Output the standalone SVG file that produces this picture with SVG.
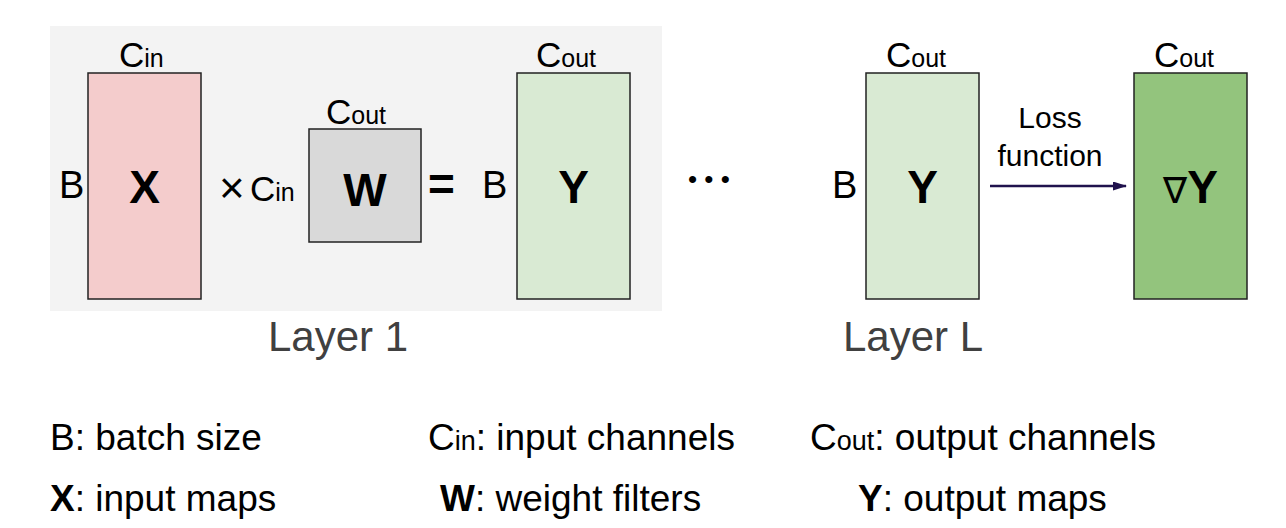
<svg xmlns="http://www.w3.org/2000/svg" width="1286" height="528" viewBox="0 0 1286 528">
<style>
text{font-family:"Liberation Sans",Arial,sans-serif;fill:#000}
.big{font-size:35px}
.sub{font-size:25px}
.b{font-size:38px}
.bold{font-size:46px;font-weight:bold}
.lay{font-size:42px;fill:#404040}
.leg{font-size:37px}
.lsub{font-size:27px}
.box{stroke:#222;stroke-width:1.5}
</style>
<defs><marker id="ah" markerWidth="14" markerHeight="9" refX="13" refY="4.5" orient="auto" markerUnits="userSpaceOnUse"><path d="M0,0 L14,4.5 L0,9 Z" fill="#20124d"/></marker></defs>
<rect x="50" y="26" width="612" height="285" fill="#f3f3f3"/>
<g id="X"><rect class="box" x="88" y="73" width="113" height="226" fill="#f4cccc"/><text class="bold" x="144.5" y="203" text-anchor="middle">X</text>
<text class="big" x="119" y="67">C<tspan class="sub">in</tspan></text><text class="b" x="59" y="198">B</text></g>
<g id="times"><text x="219" y="203" font-size="44" font-weight="200">×</text><text class="big" x="250" y="201">C<tspan class="sub">in</tspan></text></g>
<g id="W"><rect class="box" x="309" y="129" width="112" height="113" fill="#d9d9d9"/><text class="bold" x="365" y="206" text-anchor="middle">W</text>
<text class="big" x="326" y="124">C<tspan class="sub">out</tspan></text></g>
<text class="bold" x="428" y="200">=</text>
<g id="Y1"><rect class="box" x="517" y="73" width="113" height="226" fill="#d9ead3"/><text class="bold" x="573.5" y="203" text-anchor="middle">Y</text>
<text class="big" x="536" y="67">C<tspan class="sub">out</tspan></text><text class="b" x="482" y="198">B</text></g>
<text font-size="26" x="688" y="188">• • •</text>
<g id="Y2"><rect class="box" x="866" y="73" width="113" height="226" fill="#d9ead3"/><text class="bold" x="922.5" y="203" text-anchor="middle">Y</text>
<text class="big" x="886" y="67">C<tspan class="sub">out</tspan></text><text class="b" x="832" y="198">B</text></g>
<g id="dY"><rect class="box" x="1134" y="73" width="113" height="226" fill="#93c47d"/><text class="bold" x="1190.5" y="203" text-anchor="middle"><tspan font-weight="normal" font-size="36">∇</tspan>Y</text>
<text class="big" x="1154" y="67">C<tspan class="sub">out</tspan></text></g>
<g id="connectors"><line x1="990" y1="186" x2="1126" y2="186" stroke="#20124d" stroke-width="2.5" marker-end="url(#ah)"/></g>
<text x="1050" y="128" font-size="30" text-anchor="middle">Loss</text>
<text x="1050" y="166" font-size="30" text-anchor="middle">function</text>
<text class="lay" x="268" y="351">Layer 1</text>
<text class="lay" x="843" y="351">Layer L</text>
<text class="leg" x="50" y="450">B: batch size</text>
<text class="leg" x="428" y="450">C<tspan class="lsub">in</tspan>: input channels</text>
<text class="leg" x="810" y="450">C<tspan class="lsub">out</tspan>: output channels</text>
<text class="leg" x="50" y="511"><tspan font-weight="bold">X</tspan>: input maps</text>
<text class="leg" x="440" y="511"><tspan font-weight="bold">W</tspan>: weight filters</text>
<text class="leg" x="858" y="511"><tspan font-weight="bold">Y</tspan>: output maps</text>
</svg>
